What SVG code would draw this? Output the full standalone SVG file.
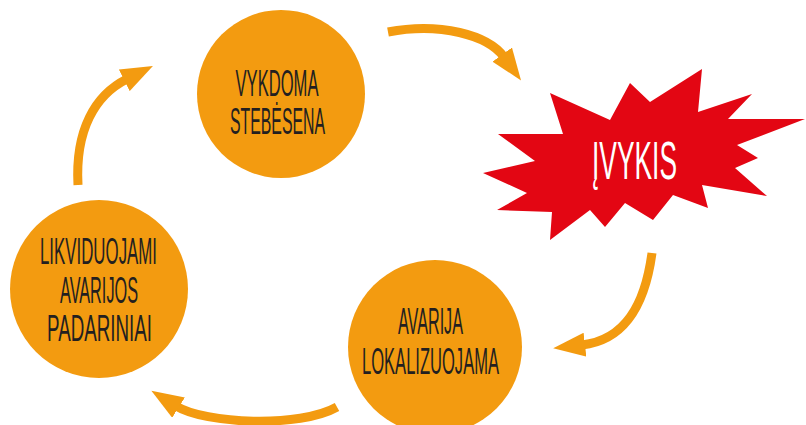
<svg xmlns="http://www.w3.org/2000/svg" width="806" height="425" viewBox="0 0 806 425">
<defs>
<style>
.node{fill:#F39B10}
.lbl{font-family:"Liberation Sans Narrow","Liberation Sans",Arial,sans-serif;font-size:37px;fill:#231F20;text-anchor:middle}
.burst{fill:#E30613}
.blbl{font-family:"Liberation Sans Narrow","Liberation Sans",Arial,sans-serif;font-size:53px;fill:#FFFFFF;text-anchor:middle}
.conn{fill:none;stroke:#F39B10;stroke-width:9}
</style>
<marker id="ah" markerUnits="userSpaceOnUse" viewBox="0 0 32 24" markerWidth="32" markerHeight="24" refX="3" refY="12" orient="auto">
<path d="M0,0 L32,12 L0,24 Z" fill="#F39B10"/>
</marker>
</defs>
<g id="connectors">
<path class="conn" d="M388,32 C440,22 488,35 504,57" marker-end="url(#ah)"/>
<path class="conn" d="M652,253 C645,305 625,340 582,345" marker-end="url(#ah)"/>
<path class="conn" d="M337,407 C300,428 205,424 176,406" marker-end="url(#ah)"/>
<path class="conn" d="M78,185 C75,130 95,95 127,79" marker-end="url(#ah)"/>
</g>
<g id="node-stebesena">
<circle class="node" cx="281" cy="94" r="84"/>
<text class="lbl" x="277" y="96" textLength="83" lengthAdjust="spacingAndGlyphs">VYKDOMA</text>
<text class="lbl" x="277.5" y="134" textLength="95" lengthAdjust="spacingAndGlyphs">STEBĖSENA</text>
</g>
<g id="node-ivykis">
<polygon class="burst" points="483,173 535,161 498,134 563,134 550,93 610,120 630,83 650,102 702,69 698,112 752,94 728,119 805,119 737,145 758,158 735,168 767,196 702,185 708,208 673,195 653,220 625,203 605,227 590,210 550,240 552,212 497,210 527,193"/>
<text class="blbl" x="634.5" y="179" textLength="85" lengthAdjust="spacingAndGlyphs">ĮVYKIS</text>
</g>
<g id="node-lokalizuojama">
<circle class="node" cx="435" cy="347" r="87"/>
<text class="lbl" x="430.5" y="334" textLength="65" lengthAdjust="spacingAndGlyphs">AVARIJA</text>
<text class="lbl" x="430.5" y="374" textLength="137" lengthAdjust="spacingAndGlyphs">LOKALIZUOJAMA</text>
</g>
<g id="node-likviduojami">
<circle class="node" cx="99" cy="289" r="89"/>
<text class="lbl" x="98.5" y="264" textLength="117" lengthAdjust="spacingAndGlyphs">LIKVIDUOJAMI</text>
<text class="lbl" x="99" y="303" textLength="78" lengthAdjust="spacingAndGlyphs">AVARIJOS</text>
<text class="lbl" x="99.5" y="341" textLength="105" lengthAdjust="spacingAndGlyphs">PADARINIAI</text>
</g>
</svg>
